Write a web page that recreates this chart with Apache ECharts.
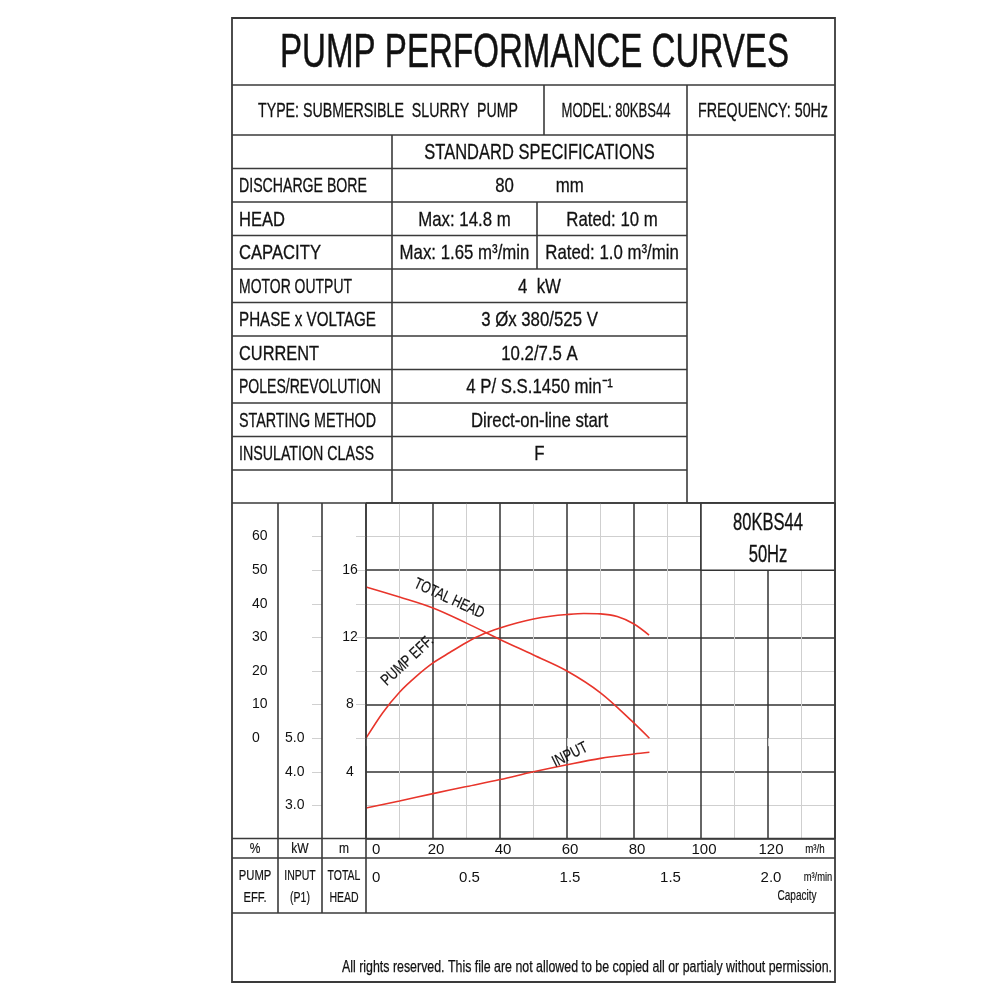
<!DOCTYPE html>
<html>
<head>
<meta charset="utf-8">
<script src="https://cdn.jsdelivr.net/npm/echarts@6/dist/echarts.min.js"></script>
<style>
  html, body { margin: 0; padding: 0; background: #fff; }
  #main { width: 1000px; height: 1000px; }
</style>
</head>
<body>
<div id="main"></div>
<script>
// ---- data ----
const flowTicks = [0, 20, 40, 60, 80, 100, 120]          // m3/h
const flowMinTicks = [0, 0.5, 1.0, 1.5, 2.0]             // m3/min
const flowMinLabels = ['0', '0.5', '1.5', '1.5', '2.0']  // printed as on the sheet
const headTicks = [4, 8, 12, 16]
const effTicks = [0, 10, 20, 30, 40, 50, 60]
const inputTicks = [3, 4, 5]
const inputTickMarks = [3, 4, 5, 6, 7, 8, 9, 10, 11]

const headFlow = [0, 10, 20, 30, 40, 50, 60, 70, 80, 84.6]
const headValues = [15.0, 14.4, 13.75, 12.85, 11.88, 10.95, 10.0, 8.7, 6.9, 6.0]
const effFlow = [0, 5, 10, 15, 20, 25, 30, 35, 40, 45, 50, 55, 60, 65, 70, 75, 80, 84.5]
const effValues = [0, 7.6, 13.7, 18.4, 22.4, 25.5, 28.5, 31, 32.8, 34.3, 35.5, 36.3, 36.8, 37.1, 37, 36.2, 34, 30.7]
const inputFlow = [0, 10, 20, 30, 40, 50, 60, 70, 80, 84.6]
const inputValues = [2.92, 3.13, 3.35, 3.56, 3.77, 4.0, 4.21, 4.40, 4.53, 4.58]

const title = 'PUMP PERFORMANCE CURVES'
const headerCells = ['TYPE: SUBMERSIBLE  SLURRY  PUMP', 'MODEL: 80KBS44', 'FREQUENCY: 50Hz']
const specLabels = ['', 'DISCHARGE BORE', 'HEAD', 'CAPACITY', 'MOTOR OUTPUT', 'PHASE x VOLTAGE',
    'CURRENT', 'POLES/REVOLUTION', 'STARTING METHOD', 'INSULATION CLASS', '']
const specValues = [['STANDARD SPECIFICATIONS'], ['80         mm'], ['Max: 14.8 m', 'Rated: 10 m'],
    ['Max: 1.65 m³/min', 'Rated: 1.0 m³/min'], ['4  kW'], ['3 Øx 380/525 V'], ['10.2/7.5 A'],
    ['4 P/ S.S.1450 min⁻¹'], ['Direct-on-line start'], ['F'], ['']]
const footer = 'All rights reserved. This file are not allowed to be copied all or partialy without permission.'

// ---- layout ----
const FONT = '"Liberation Sans", Arial, sans-serif'
const NARROW = '"Liberation Sans Narrow", "Liberation Sans", Arial, sans-serif'
const LINE = '#3a3a3a'
const RED = '#e8352b'
// printed widths of the left column labels (px), the sheet font is a condensed face
const labelWidths = [0, 128, 46, 82, 113, 137, 80, 142, 137, 135, 0]

const chart = echarts.init(document.getElementById('main'))

function zip(xs, ys) {
    return xs.map((x, i) => [x, ys[i]])
}

const labelStyle = { color: '#111', fontFamily: NARROW, fontSize: 15 }

chart.setOption({
    animation: false,
    backgroundColor: '#fff',
    grid: { left: 366, top: 503, width: 469, height: 336, containLabel: false },
    xAxis: [
        {
            type: 'value', min: 0, max: 140, interval: 20, position: 'bottom',
            axisLine: { show: false }, axisTick: { show: false },
            axisLabel: Object.assign({}, labelStyle, {
                customValues: flowTicks, margin: 3, padding: [0, 0, 0, 6], alignMinLabel: 'left'
            }),
            splitLine: { show: true, lineStyle: { color: '#333', width: 1.5 } },
            minorTick: { show: false, splitNumber: 2 },
            minorSplitLine: { show: true, lineStyle: { color: '#cfcfcf', width: 1 } }
        },
        {
            type: 'value', min: 0, max: 140 / 60, interval: 0.5, position: 'bottom', offset: 20,
            axisLine: { show: false },
            axisTick: { show: true, customValues: flowMinTicks, length: 8, lineStyle: { color: '#d0d0d0' } },
            axisLabel: Object.assign({}, labelStyle, {
                customValues: flowMinTicks, margin: 11, padding: [0, 0, 0, 6], alignMinLabel: 'left',
                formatter: v => flowMinLabels[flowMinTicks.indexOf(v)]
            }),
            splitLine: { show: false }
        }
    ],
    yAxis: [
        {
            type: 'value', min: 0, max: 20, interval: 4, position: 'left', offset: 0,
            axisLine: { show: false }, axisTick: { show: false },
            axisLabel: Object.assign({}, labelStyle, { customValues: headTicks, align: 'center', margin: 16, fontSize: 14 }),
            splitLine: { show: true, lineStyle: { color: '#333', width: 1.5 } },
            minorTick: { show: false, splitNumber: 2 },
            minorSplitLine: { show: true, lineStyle: { color: '#cfcfcf', width: 1 } }
        },
        {
            type: 'value', min: -30, max: 70, interval: 10, position: 'left', offset: 88,
            axisLine: { show: false },
            axisTick: { show: true, customValues: effTicks, length: 10, lineStyle: { color: '#d0d0d0' } },
            axisLabel: Object.assign({}, labelStyle, { customValues: effTicks, align: 'left', margin: 26, fontSize: 14 }),
            splitLine: { show: false }
        },
        {
            type: 'value', min: 2, max: 12, interval: 1, position: 'left', offset: 44,
            axisLine: { show: false },
            axisTick: { show: true, customValues: inputTickMarks, length: 10, lineStyle: { color: '#d0d0d0' } },
            axisLabel: Object.assign({}, labelStyle, {
                customValues: inputTicks, align: 'left', margin: 37, fontSize: 14,
                formatter: v => v.toFixed(1)
            }),
            splitLine: { show: false }
        }
    ],
    series: [
        {
            name: 'TOTAL HEAD', type: 'line', xAxisIndex: 0, yAxisIndex: 0,
            data: zip(headFlow, headValues), smooth: 0.35, symbol: 'none',
            lineStyle: { color: RED, width: 1.6 }
        },
        {
            name: 'PUMP EFF.', type: 'line', xAxisIndex: 0, yAxisIndex: 1,
            data: zip(effFlow, effValues), smooth: 0.3, symbol: 'none',
            lineStyle: { color: RED, width: 1.6 }
        },
        {
            name: 'INPUT', type: 'line', xAxisIndex: 0, yAxisIndex: 2,
            data: zip(inputFlow, inputValues), smooth: 0.35, symbol: 'none',
            lineStyle: { color: RED, width: 1.6 }
        }
    ]
})

// ---- sheet frame, table and annotations ----
const measure = document.createElement('canvas').getContext('2d')
function fitScale(text, size, width) {
    measure.font = size + 'px ' + FONT
    return width / measure.measureText(text).width
}

function txt(text, x, y, size, o) {
    o = o || {}
    return {
        type: 'text', x: x, y: y, z: 30,
        scaleX: o.sx || 0.7, rotation: o.rot || 0,
        style: {
            text: text, fill: '#111', font: size + 'px ' + FONT,
            stroke: '#111', lineWidth: o.bold === undefined ? 0.3 : o.bold,
            align: o.align || 'center', verticalAlign: 'middle'
        }
    }
}

function line(x1, y1, x2, y2, w) {
    return {
        type: 'line', z: 25,
        shape: { x1: x1, y1: y1, x2: x2, y2: y2 },
        style: { stroke: LINE, lineWidth: w || 1.6 }
    }
}

const L = 232, R = 835, T = 18, B = 982
const rowTop = 135, rowH = 33.5
const els = []

// outer frame and main bands
els.push({ type: 'rect', z: 25, shape: { x: L, y: T, width: R - L, height: B - T }, style: { fill: null, stroke: LINE, lineWidth: 1.8 } })
;[85, 135, 503, 838.5, 858, 913].forEach(y => els.push(line(L, y, R, y)))
els.push(line(544, 85, 544, 135))
els.push(line(687, 85, 687, 503))
els.push(line(392, 135, 392, 503))
for (let i = 1; i < specLabels.length; i++) {
    els.push(line(L, rowTop + rowH * i, 687, rowTop + rowH * i))
}
els.push(line(537, rowTop + rowH * 2, 537, rowTop + rowH * 4))
;[278, 322, 366].forEach(x => els.push(line(x, 503, x, 913)))

// title and header row
els.push(txt(title, 534.5, 53, 49, { sx: fitScale(title, 49, 509), bold: 0.5 }))
els.push(txt(headerCells[0], 388, 111, 21, { sx: fitScale(headerCells[0], 21, 260) }))
els.push(txt(headerCells[1], 616, 111, 21, { sx: fitScale(headerCells[1], 21, 109) }))
els.push(txt(headerCells[2], 763, 111, 21, { sx: fitScale(headerCells[2], 21, 130) }))

// spec table
specLabels.forEach((lab, i) => {
    const cy = rowTop + rowH * (i + 0.5) + 1
    if (lab) els.push(txt(lab, 239, cy, 21, { align: 'left', sx: fitScale(lab, 21, labelWidths[i]) }))
    const vals = specValues[i]
    if (vals.length === 1) {
        if (vals[0]) els.push(txt(vals[0], 539.5, cy, i === 0 ? 22 : 21, { sx: i === 0 ? 0.75 : 0.8 }))
    } else {
        els.push(txt(vals[0], 464.5, cy, 21, { sx: 0.8 }))
        els.push(txt(vals[1], 612, cy, 21, { sx: 0.8 }))
    }
})

// axis captions under the plot
els.push(txt('%', 255, 849, 15, { sx: 0.8, bold: 0.2 }))
els.push(txt('kW', 300, 849, 15, { sx: 0.8, bold: 0.2 }))
els.push(txt('m', 344, 849, 15, { sx: 0.8, bold: 0.2 }))
els.push(txt('m³/h', 815, 849, 13, { sx: 0.75, bold: 0.15 }))
els.push(txt('PUMP', 255, 876, 15, { sx: 0.75, bold: 0.2 }))
els.push(txt('EFF.', 255, 898, 15, { sx: 0.75, bold: 0.2 }))
els.push(txt('INPUT', 300, 876, 15, { sx: 0.7, bold: 0.2 }))
els.push(txt('(P1)', 300, 898, 15, { sx: 0.7, bold: 0.2 }))
els.push(txt('TOTAL', 344, 876, 15, { sx: 0.7, bold: 0.2 }))
els.push(txt('HEAD', 344, 898, 15, { sx: 0.7, bold: 0.2 }))
els.push(txt('m³/min', 818, 877, 13, { sx: 0.72, bold: 0.15 }))
els.push(txt('Capacity', 797, 896, 14, { sx: 0.72, bold: 0.15 }))

// model box in the upper right of the plot
const boxTL = chart.convertToPixel({ xAxisIndex: 0, yAxisIndex: 0 }, [100, 20])
const boxBR = chart.convertToPixel({ xAxisIndex: 0, yAxisIndex: 0 }, [140, 16])
els.push({
    type: 'rect', z: 20,
    shape: { x: boxTL[0], y: boxTL[1], width: boxBR[0] - boxTL[0], height: boxBR[1] - boxTL[1] },
    style: { fill: '#fff', stroke: '#333', lineWidth: 1.5 }
})
const boxCX = (boxTL[0] + boxBR[0]) / 2
els.push(txt('80KBS44', boxCX, 523.5, 23, { sx: fitScale('80KBS44', 23, 70) }))
els.push(txt('50Hz', boxCX, 556, 23, { sx: fitScale('80KBS44', 23, 70) }))

// curve names, anchored in data coordinates
const headTag = chart.convertToPixel({ xAxisIndex: 0, yAxisIndex: 0 }, [24.8, 14.3])
const effTag = chart.convertToPixel({ xAxisIndex: 0, yAxisIndex: 1 }, [12.4, 23])
const inputTag = chart.convertToPixel({ xAxisIndex: 0, yAxisIndex: 2 }, [60.9, 4.5])
els.push(txt('TOTAL HEAD', headTag[0], headTag[1], 16, { sx: 0.76, rot: -0.43, bold: 0.2 }))
els.push(txt('PUMP EFF.', effTag[0], effTag[1], 16, { sx: 0.78, rot: 0.75, bold: 0.2 }))
els.push(txt('INPUT', inputTag[0], inputTag[1], 16, { sx: 0.78, rot: 0.46, bold: 0.2 }))

// footer
els.push(txt(footer, 832, 968, 16, { align: 'right', sx: fitScale(footer, 16, 490), bold: 0.25 }))

chart.setOption({ graphic: { elements: els } })
</script>
</body>
</html>
